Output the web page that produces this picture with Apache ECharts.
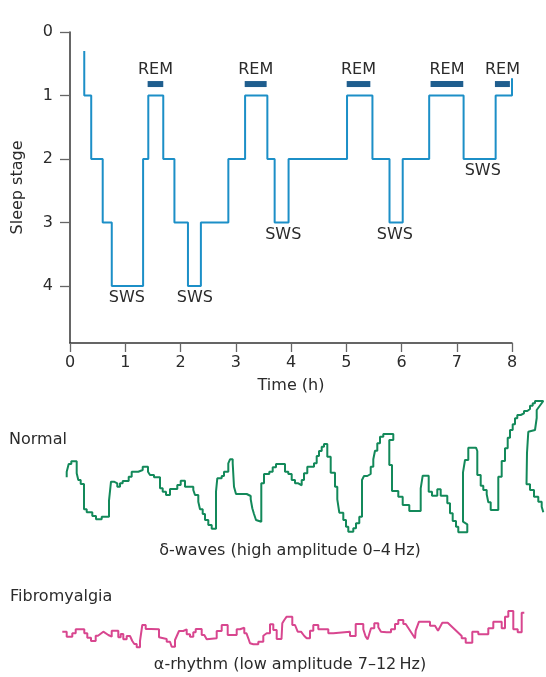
<!DOCTYPE html>
<html><head><meta charset="utf-8">
<script src="https://cdn.jsdelivr.net/npm/echarts@6/dist/echarts.min.js"></script>
<style>html,body{margin:0;padding:0;background:#fff}#c{width:546px;height:677px}</style>
</head><body><div id="c"></div>
<script>
// ---- Hypnogram (time in h, sleep stage) ----
var hypnoTimes  = [0.258,0.258,0.384,0.592,0.756,1.323,1.417,1.688,1.89,2.135,2.369,2.866,3.169,3.572,3.704,3.956,5.014,5.474,5.783,6.022,6.501,7.124,7.704,8.0,8.0];
var hypnoStages = [0.3,1,2,3,4,2,1,2,3,4,3,2,1,2,3,2,1,2,3,2,1,2,1,1,0.73];
// REM periods: start, end (h)
var remStart = [1.405,3.162,5.008,6.526,7.691];
var remEnd   = [1.688,3.559,5.436,7.118,7.962];
var remLevel = 0.82;
// SWS annotations: time, stage position
var swsTimes  = [1.03,2.26,3.86,5.88,7.47];
var swsLevels = [4.19,4.19,3.2,3.2,2.19];
var xTicks = [0,1,2,3,4,5,6,7,8];
var yTicks = [0,1,2,3,4];

// ---- EEG traces (t, amplitude) ----
var normalWave = [[4.7,12.7],[4.7,18.3],[6.7,18.3],[6.7,26],[9.3,26],[9.3,28.7],[14.7,28.7],[14.7,16.7],[16.3,16.7],[16.3,10],[18.7,10],[18.7,6],[22,6],[22,-19.3],[24.7,-19.3],[24.7,-22.3],[30.3,-22.3],[30.3,-26],[34,-26],[34,-29.3],[39.7,-29.3],[39.7,-26.7],[47,-26.7],[47,-10.7],[49,-10.7],[49,8.3],[52,8.3],[52,10],[54,10],[54,6.7],[55.3,6.7],[55.3,3.3],[58,3.3],[58,6.7],[60.7,6.7],[60.7,9],[66.7,9],[66.7,13.3],[69.7,13.3],[69.7,18.3],[76.3,18.3],[76.3,20],[80.7,20],[80.7,23.3],[86,23.3],[86,18.3],[88,18.3],[88,15],[92,15],[92,12.7],[98,12.7],[98,1.7],[100.7,1.7],[100.7,-1.7],[104,-1.7],[104,-5],[108,-5],[108,1],[115.3,1],[115.3,5],[118.7,5],[118.7,9.3],[123,9.3],[123,3.3],[131.3,3.3],[131.3,0],[133,0],[133,-5],[136.3,-5],[136.3,-11.7],[138,-11.7],[138,-19.3],[140.7,-19.3],[140.7,-24],[143,-24],[143,-30],[146.3,-30],[146.3,-35],[149.7,-35],[149.7,-38.7],[154,-38.7],[154,-1.7],[155.3,-1.7],[155.3,11.7],[159.7,11.7],[159.7,14],[162,14],[162,18.3],[166.3,18.3],[166.3,26.7],[168,26.7],[168,30.7],[170.7,30.7],[170.7,26.7],[172,26.7],[172,3.3],[174,3.3],[174,-4],[184.7,-4],[184.7,-6],[188.7,-6],[188.7,-9.3],[190.3,-9.3],[190.3,-18.3],[192,-18.3],[192,-24],[194,-24],[194,-30],[196,-30],[196,-31.7],[199.3,-31.7],[199.3,6.7],[202,6.7],[202,16],[207.3,16],[207.3,18.3],[210.7,18.3],[210.7,22.7],[214,22.7],[214,26],[223,26],[223,18.3],[226.3,18.3],[226.3,16],[229.7,16],[229.7,10],[233,10],[233,6.7],[236.3,6.7],[236.3,4.7],[239.7,4.7],[239.7,10],[242,10],[242,16.7],[245.3,16.7],[245.3,23.3],[252,23.3],[252,26.7],[254.7,26.7],[254.7,34],[257,34],[257,39],[259.7,39],[259.7,43.3],[262,43.3],[262,46],[265.3,46],[265.3,33.3],[268.7,33.3],[268.7,17.3],[273,17.3],[273,3.3],[275.3,3.3],[275.3,-9.3],[277.3,-9.3],[277.3,-22.7],[281.3,-22.7],[281.3,-30],[284,-30],[284,-36.7],[286.3,-36.7],[286.3,-41.7],[291.3,-41.7],[291.3,-38.3],[294,-38.3],[294,-33.3],[297.3,-33.3],[297.3,-26.7],[300,-26.7],[300,10],[302,10],[302,14],[305.3,14],[305.3,16],[308.7,16],[308.7,23.3],[311.3,23.3],[311.3,30.7],[313,30.7],[313,39.3],[315.3,39.3],[315.3,46.7],[318,46.7],[318,53.3],[321.3,53.3],[321.3,56],[331.3,56],[331.3,50],[327.3,50],[327.3,25],[330,25],[330,-1],[336.3,-1],[336.3,-6.7],[340.7,-6.7],[340.7,-15],[347.3,-15],[347.3,-21],[358.7,-21],[358.7,1.7],[360.7,1.7],[360.7,14.3],[366.7,14.3],[366.7,-1.7],[370,-1.7],[370,-5.7],[375.3,-5.7],[375.3,0.7],[378.7,0.7],[378.7,-5.7],[385.3,-5.7],[385.3,-13.3],[388,-13.3],[388,-23.3],[390.7,-23.3],[390.7,-31],[394,-31],[394,-36.7],[396.3,-36.7],[396.3,-42.3],[405.3,-42.3],[405.3,-34.3],[401,-31.7],[401,17.7],[403,17.7],[403,30],[406.3,30],[406.3,42.3],[414,42.3],[415.3,39],[415.3,15],[418.7,15],[418.7,4.3],[421.3,4.3],[421.3,0],[424.7,0],[424.7,-4.3],[426.3,-4.3],[426.3,-12.3],[428.7,-12.3],[428.7,-20],[436.3,-20],[436.3,13.3],[439.7,13.3],[439.7,29],[443,29],[443,41.7],[445.7,41.7],[445.7,52.3],[448,52.3],[448,60],[450.7,60],[450.7,65.7],[453,65.7],[453,71.7],[455.3,71.7],[455.3,75],[458.7,75],[458.7,76.7],[462,76.7],[462,79],[465.3,79],[465.3,81],[468,81],[468,84.3],[470.7,84.3],[470.7,86.7],[473,86.7],[473,89],[481.3,89],[481.3,87],[474.7,80],[474.7,72],[473,60],[466.3,58.3],[465,37],[464.5,5.7],[468,5.7],[468,0],[472,0],[472,-6.7],[476.3,-6.7],[476.3,-11.7],[479.7,-11.7],[479.7,-16.7],[481.3,-16.7],[481.3,-22.3]];

var fibroWave = [[0.3,-1.7],[4.7,-1.7],[4.7,-6.7],[10.3,-6.7],[10.3,-3.3],[13.7,-3.3],[13.7,0.7],[22.3,0.7],[22.3,-3.3],[25.3,-3.3],[25.3,-7.7],[29,-7.7],[29,-11],[33.7,-11],[33.7,-5.7],[36,-5.7],[41.3,-1.7],[46.3,-5],[49.7,-6.7],[49.7,-0.7],[56.3,-0.7],[56.3,-7.3],[58.7,-7.3],[58.7,-4],[61.3,-4],[61.3,-9.3],[64.7,-9.3],[64.7,-6],[68,-6],[70.3,-11],[72.3,-11],[72.3,-14],[74.7,-14],[74.7,-17.3],[78,-17.3],[78,-11],[79,-11],[80.3,5],[83.7,5],[83.7,1],[89,1],[89,0.7],[97,0.7],[97,-7.3],[99,-7.3],[99,-9],[104.7,-9],[104.7,-11.7],[108,-11.7],[109.7,-16.7],[113,-16.7],[113,-10],[114.5,-10],[117,-1],[121.3,-1],[121.3,0.7],[124.7,0.7],[124.7,-4.3],[128,-4.3],[128,-6.7],[131.3,-6.7],[131.3,-2.3],[133.7,-2.3],[133.7,1],[139.7,1],[139.7,-5],[142.3,-5],[144.7,-9.3],[146.3,-9.3],[146.3,-8.3],[154.7,-8.3],[154.7,-1],[159.7,-1],[159.7,5],[165.7,5],[165.7,-5],[174.7,-5],[174.7,0.7],[178,0.7],[178,2.3],[182.3,2.3],[182.3,-3.3],[184.5,-3.3],[186.3,-8.3],[188,-13.3],[191.3,-14.3],[196.3,-14.3],[196.3,-11.7],[201.3,-11.7],[201.3,-5.7],[204.7,-3.3],[208,-3.3],[208,5.7],[211.3,5.7],[211.3,0],[214.7,0],[214.7,-9],[219.5,-9],[220.3,6.7],[222.3,10],[224.7,13.3],[230.3,13.3],[230.3,5],[233,5],[235.7,-1.7],[239,-1.7],[242.3,-6],[244.7,-8.3],[248,-8.3],[248,-0.7],[251.3,-0.7],[251.3,5],[256.3,5],[256.3,0.7],[266.3,0.7],[266.3,-3.3],[271.3,-3.3],[271.3,-1.7],[288,-1.7],[288,-6],[293.7,-6],[293.7,6],[301.3,6],[301.3,0.7],[303,0.7],[303.7,-6.7],[305.7,-9.3],[309,1.7],[312.3,1.7],[312.3,6.7],[316.3,6.7],[316.3,2.7],[319,-1.7],[324.7,-2.3],[329,-2.3],[329,0.7],[333,0.7],[333,6],[336.3,6],[336.3,10],[341.3,10],[341.3,6],[343.7,6],[343.7,4],[353,-8.3],[353.7,-0.7],[357,8.3],[368,8.3],[368,4.3],[373,4.3],[376,-0.7],[378,-0.7],[380.3,7.3],[385.7,7.3],[399.7,-6],[399.7,-8.3],[403.7,-8.3],[403.7,-12.7],[410.3,-12.7],[410.3,-1.7],[416.3,-1.7],[416.3,-4.3],[426.3,-4.3],[426.3,1.7],[431.3,1.7],[431.3,8.3],[439.7,8.3],[439.7,1.7],[443,1.7],[443,13.3],[446.3,13.3],[446.3,19],[451.3,19],[451.3,0.7],[455.7,0.7],[455.7,-2.3],[459.7,-2.3],[459.7,17.3],[462.3,17.3]];

var FONT = '"DejaVu Sans", Verdana, sans-serif';
var TXT = '#2b2b2b';

var hypnoData = hypnoTimes.map(function(t,i){return [t, hypnoStages[i]];});
var remData = remStart.map(function(s,i){return [s, remEnd[i], remLevel];});
var swsData = swsTimes.map(function(t,i){return [t, swsLevels[i]];});

var chart = echarts.init(document.getElementById('c'), null, {renderer:'canvas'});
chart.setOption({
  animation:false,
  backgroundColor:'#fff',
  textStyle:{fontFamily:FONT},
  grid:[
    {left:70, width:442, top:32, height:311},
    {left:62, width:484, top:390, height:150},
    {left:62, width:484, top:590, height:60}
  ],
  xAxis:[
    {gridIndex:0, type:'value', min:0, max:8, interval:1, position:'bottom',
     name:'Time (h)', nameLocation:'middle', nameGap:35,
     nameTextStyle:{fontSize:16, color:TXT, fontFamily:FONT},
     axisLine:{onZero:false, lineStyle:{color:'#333', width:1.5}},
     axisTick:{show:true, length:9, customValues:xTicks, lineStyle:{color:'#666', width:1.3}},
     axisLabel:{fontSize:16, color:TXT, margin:12, fontFamily:FONT, customValues:xTicks},
     splitLine:{show:false}},
    {gridIndex:1, type:'value', min:0, max:484, show:false},
    {gridIndex:2, type:'value', min:0, max:484, show:false}
  ],
  yAxis:[
    {gridIndex:0, type:'value', min:0, max:4.9, inverse:true, interval:1,
     name:'Sleep stage', nameLocation:'middle', nameGap:44, nameRotate:90,
     nameTextStyle:{fontSize:16, color:TXT, fontFamily:FONT},
     axisLine:{show:true, onZero:false, lineStyle:{color:'#333', width:1.5}},
     axisTick:{show:true, length:10, customValues:yTicks, lineStyle:{color:'#666', width:1.3}},
     axisLabel:{fontSize:16, color:TXT, margin:17, fontFamily:FONT, customValues:yTicks},
     splitLine:{show:false}},
    {gridIndex:1, type:'value', min:-50, max:100, show:false},
    {gridIndex:2, type:'value', min:-20, max:40, show:false}
  ],
  series:[
    {type:'line', xAxisIndex:0, yAxisIndex:0, data:hypnoData, step:'end',
     showSymbol:false, lineStyle:{color:'#1c8fc7', width:2}, clip:false},
    {type:'custom', xAxisIndex:0, yAxisIndex:0, data:remData, clip:false,
     renderItem:function(params, api){
       var p0 = api.coord([api.value(0), api.value(2)]);
       var p1 = api.coord([api.value(1), api.value(2)]);
       return {type:'group', children:[
         {type:'rect', shape:{x:p0[0], y:p0[1]-3, width:p1[0]-p0[0], height:6},
          style:{fill:'#1f5e8e'}},
         {type:'text', style:{text:'REM', x:(p0[0]+p1[0])/2, y:p0[1]-14,
          textAlign:'center', textVerticalAlign:'middle', fill:TXT,
          font:'16px ' + FONT}}
       ]};
     }},
    {type:'custom', xAxisIndex:0, yAxisIndex:0, data:swsData, clip:false,
     renderItem:function(params, api){
       var p = api.coord([api.value(0), api.value(1)]);
       return {type:'text', style:{text:'SWS', x:p[0], y:p[1],
         textAlign:'center', textVerticalAlign:'middle', fill:TXT,
         font:'16px ' + FONT}};
     }},
    {type:'line', xAxisIndex:1, yAxisIndex:1, data:normalWave, showSymbol:false,
     lineStyle:{color:'#13895a', width:2}, clip:false},
    {type:'line', xAxisIndex:2, yAxisIndex:2, data:fibroWave, showSymbol:false,
     lineStyle:{color:'#d8468f', width:2}, clip:false}
  ],
  graphic:[
    {type:'text', left:9, top:432, style:{text:'Normal', font:'16px ' + FONT, fill:TXT}},
    {type:'text', x:290, y:551, style:{text:'\u03b4-waves (high amplitude 0\u20134\u2009Hz)', font:'16px ' + FONT, fill:TXT, textAlign:'center', textVerticalAlign:'middle'}},
    {type:'text', left:10, top:589, style:{text:'Fibromyalgia', font:'16px ' + FONT, fill:TXT}},
    {type:'text', x:290, y:665, style:{text:'\u03b1-rhythm (low amplitude 7\u201312\u2009Hz)', font:'16px ' + FONT, fill:TXT, textAlign:'center', textVerticalAlign:'middle'}}
  ]
});
</script></body></html>
